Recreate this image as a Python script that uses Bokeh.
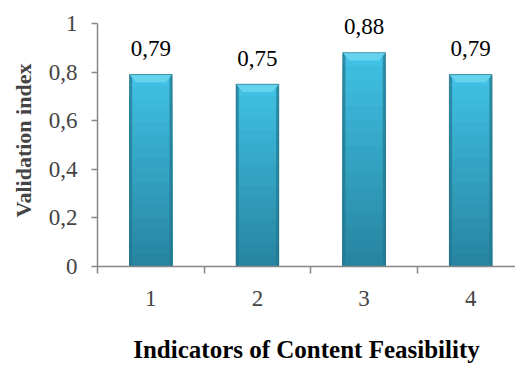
from bokeh.plotting import figure
from bokeh.models import Range1d, FixedTicker, ColumnDataSource, LabelSet
from bokeh.embed import file_html
from bokeh.resources import INLINE

# Validation index per content-feasibility indicator
indicators = [1, 2, 3, 4]
validation_index = [0.79, 0.75, 0.88, 0.79]
y_ticks = [0, 0.2, 0.4, 0.6, 0.8, 1.0]
y_tick_labels = ["0", "0,2", "0,4", "0,6", "0,8", "1"]
value_labels = [f"{v:.2f}".replace(".", ",") for v in validation_index]

FONT = "Liberation Serif"
BAR_W = 0.40

# A little headroom above 1 so the value labels are not clipped
p = figure(width=515, height=365, output_backend="svg", toolbar_location=None,
           x_range=Range1d(0.5, 4.42), y_range=Range1d(0, 1.037),
           min_border_left=97, min_border_right=0, min_border_top=14,
           min_border_bottom=98)
p.outline_line_color = None
p.grid.grid_line_color = None
p.background_fill_color = "white"
p.border_fill_color = "white"

# Bars: vertical shading built from nested layers (tallest first)
top_col = (64, 192, 226)
bot_col = (38, 130, 158)
n_seg = 16
for i in range(n_seg, 0, -1):
    f = i / n_seg
    c = tuple(int(bot_col[k] + (top_col[k] - bot_col[k]) * f) for k in range(3))
    p.vbar(x=indicators, width=BAR_W, bottom=0,
           top=[v * f for v in validation_index],
           fill_color="#%02x%02x%02x" % c, line_color=None)

# Darker side edges
edge = 0.025
for side in (-1, 1):
    p.vbar(x=[x + side * (BAR_W / 2 - edge / 2) for x in indicators], width=edge,
           bottom=0, top=validation_index, fill_color="#24778f",
           fill_alpha=0.7, line_color=None)

# Bevelled top cap
bev_h = 0.032
bev_in = 0.06
xs, ys = [], []
for x, v in zip(indicators, validation_index):
    xs.append([x - BAR_W / 2, x + BAR_W / 2, x + BAR_W / 2 - bev_in, x - BAR_W / 2 + bev_in])
    ys.append([v, v, v - bev_h, v - bev_h])
p.patches(xs, ys, fill_color="#66d3ee", line_color=None)
p.vbar(x=indicators, width=BAR_W, bottom=0, top=validation_index,
       fill_color=None, line_color="#1f6f86", line_width=0.8, line_alpha=0.8)

# Value labels above bars
src = ColumnDataSource(dict(x=indicators, y=validation_index, t=value_labels))
p.add_layout(LabelSet(x="x", y="y", text="t", source=src, y_offset=26,
                      text_align="center", text_baseline="middle",
                      text_font=FONT, text_font_size="23px", text_color="black"))

# Y axis (line drawn only between 0 and 1)
ya = p.yaxis[0]
ya.bounds = (0, 1)
ya.ticker = FixedTicker(ticks=y_ticks)
ya.major_label_overrides = {t: s for t, s in zip(y_ticks, y_tick_labels)}
ya.axis_label = "Validation index"
ya.axis_label_text_font = FONT
ya.axis_label_text_font_style = "bold"
ya.axis_label_text_font_size = "22px"
ya.axis_label_standoff = 10
ya.major_label_text_font = FONT
ya.major_label_text_font_size = "23px"
ya.major_label_standoff = 14
ya.major_tick_out = 6
ya.major_tick_in = 0
ya.minor_tick_line_color = None
ya.axis_line_color = "#868686"
ya.axis_line_width = 1.5
ya.major_tick_line_color = "#868686"
ya.major_tick_line_width = 1.5

# X axis: labels at category centres, ticks at category boundaries
xa = p.xaxis[0]
xa.ticker = FixedTicker(ticks=indicators, minor_ticks=[0.5, 1.5, 2.5, 3.5])
xa.major_label_text_font = FONT
xa.major_label_text_font_size = "23px"
xa.major_label_standoff = 17
xa.major_tick_line_color = None
xa.major_tick_out = 0
xa.major_tick_in = 0
xa.minor_tick_out = 7
xa.minor_tick_in = 0
xa.minor_tick_line_color = "#868686"
xa.minor_tick_line_width = 1.5
xa.axis_line_color = "#868686"
xa.axis_line_width = 1.5
xa.axis_label = "Indicators of Content Feasibility"
xa.axis_label_text_font = FONT
xa.axis_label_text_font_style = "bold"
xa.axis_label_text_font_size = "25px"
xa.axis_label_text_color = "black"
xa.axis_label_standoff = 27

open("out.html", "w").write(file_html(p, INLINE))
